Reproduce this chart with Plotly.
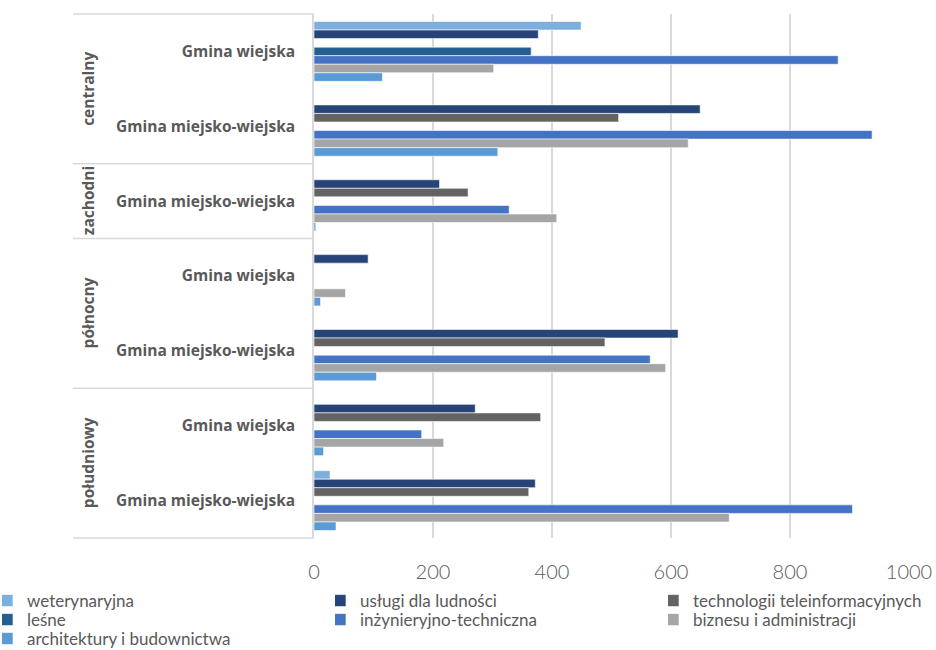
import plotly.graph_objects as go

# ---------------- data ----------------
regions = ["centralny", "centralny", "zachodni", "północny", "północny", "południowy", "południowy"]
gmina_types = ["Gmina wiejska", "Gmina miejsko-wiejska", "Gmina miejsko-wiejska",
               "Gmina wiejska", "Gmina miejsko-wiejska", "Gmina wiejska", "Gmina miejsko-wiejska"]

series_names = ["weterynaryjna", "usługi dla ludności", "technologii teleinformacyjnych",
                "leśne", "inżynieryjno-techniczna", "biznesu i administracji",
                "architektury i budownictwa"]

weterynaryjna = [449, 0, 0, 0, 0, 0, 27]
uslugi = [377, 649, 211, 91, 612, 271, 372]
technologie = [0, 512, 259, 0, 489, 381, 361]
lesne = [365, 0, 0, 0, 0, 0, 0]
inzynieryjno = [881, 938, 328, 0, 565, 181, 905]
biznesu = [302, 629, 408, 53, 591, 218, 698]
architektury = [115, 309, 3, 11, 105, 16, 37]

series_values = [weterynaryjna, uslugi, technologie, lesne, inzynieryjno, biznesu, architektury]
series_colors = ["#7cafdd", "#264478", "#636363", "#255e91", "#4472c4", "#a5a5a5", "#5b9bd5"]

x_ticks = [0, 200, 400, 600, 800, 1000]

# ---------------- figure ----------------
TEXT = "#595959"
GRID = "#d9d9d9"
cat_ids = [f"{r}|{t}|{i}" for i, (r, t) in enumerate(zip(regions, gmina_types))]

W, H = 936, 650
ml, mr, mt, mb = 314, 27, 14, 112
pw = W - ml - mr

fig = go.Figure()
legend_layouts = {}
col_x = [2, 335, 668]      # legend box left edges (px)
row_y = [601, 620, 639]    # legend entry centres (px)
for i, (name, vals, col) in enumerate(zip(series_names, series_values, series_colors)):
    lg = "legend" if i == 0 else f"legend{i + 1}"
    fig.add_trace(go.Bar(
        y=cat_ids, x=vals, name=name, orientation="h",
        marker=dict(color=col, line=dict(color="white", width=0.6)),
        legend=lg,
    ))
    legend_layouts[lg] = dict(
        orientation="v", xref="container", yref="container",
        x=col_x[i % 3] / W, y=1 - row_y[i // 3] / H,
        xanchor="left", yanchor="middle",
        font=dict(family="Lato, sans-serif", size=17, color=TEXT),
        bgcolor="rgba(0,0,0,0)", borderwidth=0, indentation=-15,
    )

fig.update_layout(
    width=W, height=H,
    margin=dict(l=ml, r=mr, t=mt, b=mb, autoexpand=False),
    paper_bgcolor="white", plot_bgcolor="white",
    barmode="group", bargap=0.2, bargroupgap=0,
    showlegend=True,
    font=dict(family="Open Sans, sans-serif", color=TEXT),
    **legend_layouts,
)

fig.update_xaxes(
    range=[0, 1000], tickmode="array", tickvals=x_ticks,
    showgrid=True, gridcolor=GRID, gridwidth=1.5, zeroline=False,
    showline=False, ticks="outside", ticklen=16, tickcolor="rgba(0,0,0,0)",
    tickfont=dict(family="Lato, sans-serif", size=20, color=TEXT, weight=300),
)
fig.update_yaxes(
    type="category", categoryorder="array", categoryarray=cat_ids,
    autorange="reversed", tickmode="array", tickvals=cat_ids, ticktext=gmina_types,
    showgrid=False, zeroline=False,
    showline=True, linecolor=GRID, linewidth=1.5,
    ticks="", ticklabelstandoff=14,
    tickfont=dict(family="Open Sans, sans-serif", size=15.5, color=TEXT, weight="bold"),
)

# region grouping: divider lines and rotated region labels
n = len(regions)
left_px = 73
x_left = (left_px - ml) / pw
runs = []
start = 0
for i in range(1, n + 1):
    if i == n or regions[i] != regions[start]:
        runs.append((regions[start], start, i))
        start = i

boundaries = sorted({0} | {e for _, _, e in runs})
for b in boundaries:
    yp = 1 - b / n
    fig.add_shape(type="line", xref="paper", yref="paper", x0=x_left, x1=0, y0=yp, y1=yp,
                  line=dict(color=GRID, width=1.5), layer="below")

for name, s, e in runs:
    yc = 1 - (s + e) / 2 / n
    fig.add_annotation(text=name, xref="paper", yref="paper", x=(88 - ml) / pw, y=yc,
                       textangle=-90, showarrow=False, xanchor="center", yanchor="middle",
                       font=dict(family="Open Sans, sans-serif", size=15.5, color=TEXT, weight="bold"))

fig.write_html("out.html", config={"displayModeBar": False},
               post_script="document.body.style.margin='0';")
